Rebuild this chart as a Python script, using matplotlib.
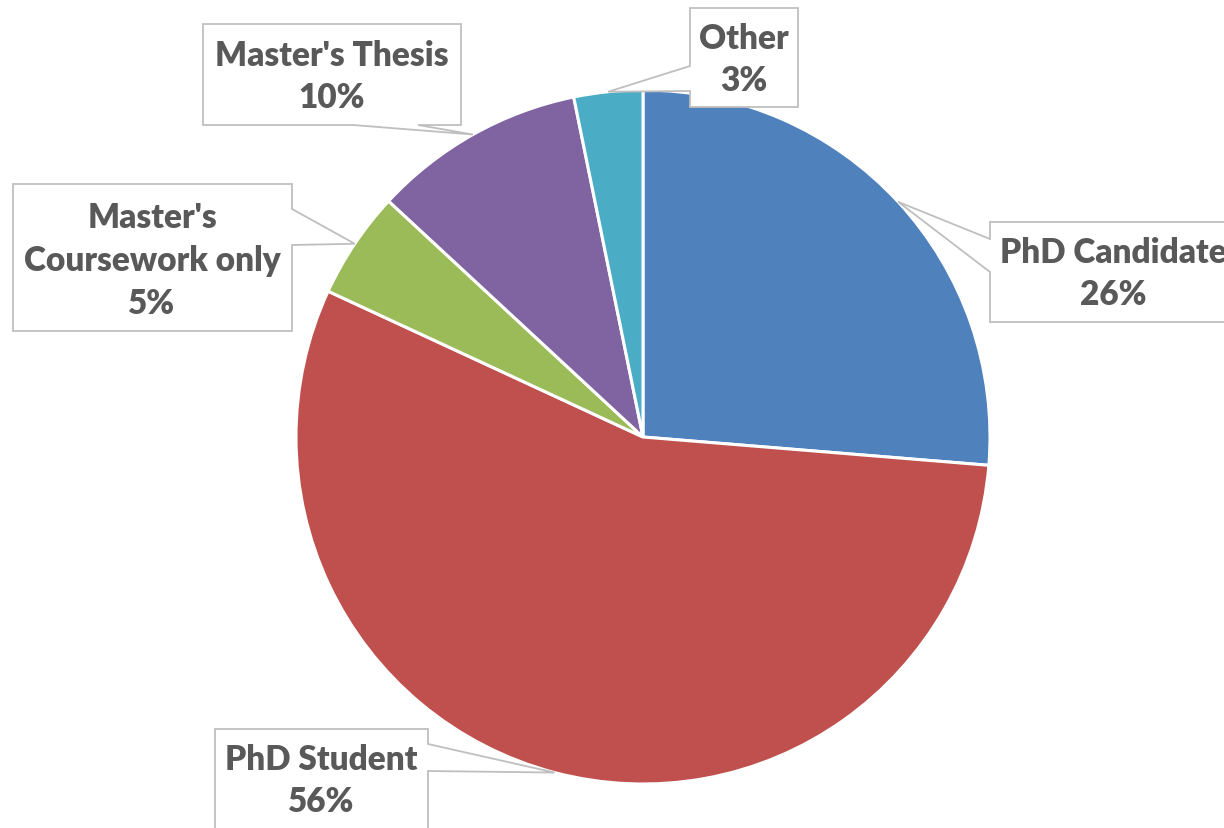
import matplotlib.pyplot as plt
import numpy as np
from matplotlib.patches import Polygon

# Data
labels = ["PhD Candidate", "PhD Student", "Master's\nCoursework only", "Master's Thesis", "Other"]
values = [26.3, 55.6, 5.0, 9.9, 3.2]
colors = ["#4F81BD", "#C0504D", "#9BBB59", "#8064A2", "#4BACC6"]

W, H = 1224, 829

# callout boxes in image pixels: (left, top, right, bottom), side of pointer, base span
boxes = [
    ((990, 223, 1240, 323), "left", (240, 273)),
    ((215, 730, 428, 845), "right", (745, 772)),
    ((13, 185, 292, 332), "right", (210, 246)),
    ((203, 25, 461, 126), "bottom", (353, 418)),
    ((690, 9, 798, 108), "left", (67, 92)),
]
# text centre (image pixels) for each callout
text_pos = [(1113, 274), (321, 781), (152, 261), (332, 77), (744, 60)]

fig = plt.figure(figsize=(W / 100, H / 100), dpi=100)
ax = fig.add_axes([0, 0, 1, 1])

cx, cy, r = 643, H - 438, 347
wedges, _ = ax.pie(values, colors=colors, startangle=90, counterclock=False,
                   center=(cx, cy), radius=r,
                   wedgeprops=dict(edgecolor="white", linewidth=2.2))


def callout(box, side, base, tip):
    l, t, rr, b = box
    t, b = H - t, H - b
    if side == "left":
        y1, y2 = H - base[0], H - base[1]
        pts = [(l, t), (rr, t), (rr, b), (l, b), (l, y2), tip, (l, y1)]
    elif side == "right":
        y1, y2 = H - base[0], H - base[1]
        pts = [(l, t), (rr, t), (rr, y1), tip, (rr, y2), (rr, b), (l, b)]
    else:
        x1, x2 = base
        pts = [(l, t), (rr, t), (rr, b), (x2, b), tip, (x1, b), (l, b)]
    ax.add_patch(Polygon(pts, closed=True, facecolor="white", edgecolor="#BFBFBF",
                         linewidth=1.3, zorder=3))


total = sum(values)
for w, lab, v, (box, side, base), (tx, ty) in zip(wedges, labels, values, boxes, text_pos):
    mid = np.deg2rad((w.theta1 + w.theta2) / 2)
    tip = (cx + r * np.cos(mid), cy + r * np.sin(mid))
    callout(box, side, base, tip)
    ax.text(tx, H - ty, f"{lab}\n{v / total * 100:.0f}%", ha="center", va="center",
            fontsize=24, fontweight="heavy", color="#595959", family="Lato",
            linespacing=1.42, zorder=4)

ax.set_xlim(0, W)
ax.set_ylim(0, H)
ax.set_aspect("equal")
ax.axis("off")

fig.savefig("out.png", dpi=100)
